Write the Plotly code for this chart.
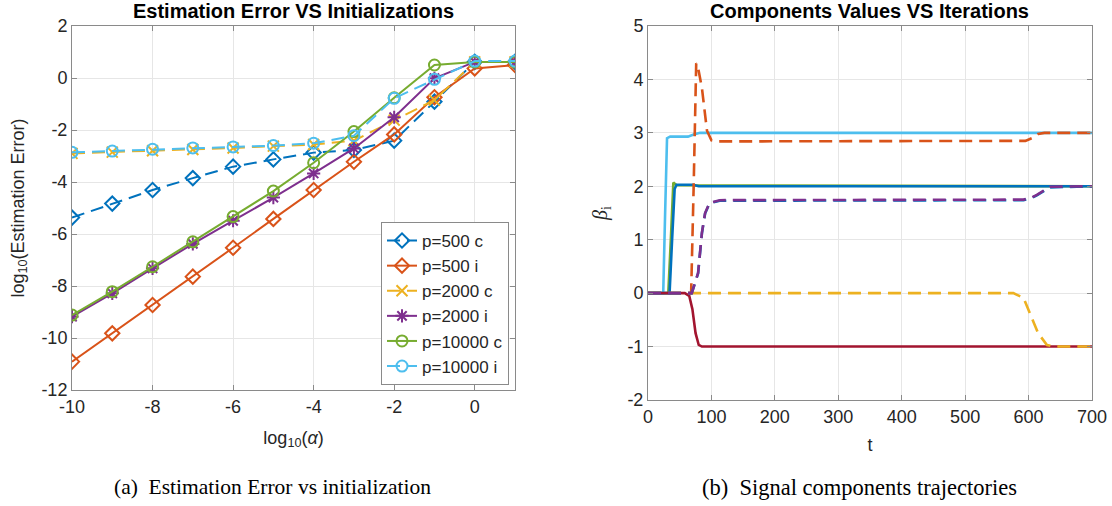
import plotly.graph_objects as go

W, H = 1112, 506

# ---------------- Left panel data ----------------
log_alpha = [-10, -9, -8, -7, -6, -5, -4, -3, -2, -1, 0, 1]
p500_c = [-5.37, -4.83, -4.31, -3.85, -3.41, -3.13, -2.87, -2.77, -2.41, -0.91, 0.62, 0.62]
p500_i = [-10.91, -9.82, -8.73, -7.64, -6.53, -5.42, -4.31, -3.22, -2.17, -0.74, 0.37, 0.50]
p2000_c = [-2.90, -2.85, -2.80, -2.75, -2.69, -2.62, -2.56, -2.41, -1.62, -0.85, 0.62, 0.62]
p2000_i = [-9.18, -8.28, -7.32, -6.38, -5.49, -4.60, -3.67, -2.71, -1.51, -0.01, 0.62, 0.62]
p10000_c = [-9.12, -8.22, -7.26, -6.30, -5.33, -4.35, -3.26, -2.06, -0.76, 0.50, 0.62, 0.62]
p10000_i = [-2.86, -2.81, -2.74, -2.69, -2.65, -2.60, -2.51, -2.22, -0.78, -0.05, 0.65, 0.65]

left_xticks = [-10, -8, -6, -4, -2, 0]
left_xtext = ["-10", "-8", "-6", "-4", "-2", "0"]
left_yticks = [-12, -10, -8, -6, -4, -2, 0, 2]
left_ytext = ["-12", "-10", "-8", "-6", "-4", "-2", "0", "2"]

# ---------------- Right panel data ----------------
t_lb = [0, 24, 27, 30, 35, 63, 72, 82, 700]
b_lb = [0, 0, 1.5, 2.9, 2.93, 2.93, 2.97, 3.0, 3.0]

t_gr = [0, 32, 36, 40, 45, 700]
b_gr = [0, 0, 1.0, 2.07, 2.02, 2.0]

t_bl = [0, 34, 38, 42, 45, 71, 80, 700]
b_bl = [0, 0, 1.0, 1.95, 2.03, 2.03, 2.0, 2.0]

t_dr = [0, 58, 65, 70, 75, 80, 85, 700]
b_dr = [0, 0, -0.05, -0.3, -0.75, -0.97, -1.0, -1.0]

t_or = [0, 68, 72, 76, 78, 85, 93, 100, 110, 595, 605, 615, 625, 700]
b_or = [0, 0, 2.0, 4.3, 4.28, 3.84, 3.04, 2.86, 2.84, 2.85, 2.9, 2.98, 3.0, 3.0]

t_bd = [0, 69, 79, 85, 90, 97, 113, 592, 603, 613, 634, 700]
b_bd = [0, 0, 0.37, 1.12, 1.49, 1.68, 1.73, 1.74, 1.77, 1.83, 1.98, 2.0]

t_pd = [0, 69, 79, 85, 90, 97, 113, 592, 603, 613, 634, 700]
b_pd = [0, 0, 0.38, 1.13, 1.5, 1.69, 1.74, 1.75, 1.78, 1.84, 1.99, 2.0]

t_ye = [0, 576, 592, 602, 615, 629, 640, 700]
b_ye = [0, 0, -0.09, -0.37, -0.75, -0.97, -1.0, -1.0]

right_xticks = [0, 100, 200, 300, 400, 500, 600, 700]
right_yticks = [-2, -1, 0, 1, 2, 3, 4, 5]
right_ytext = ["-2", "-1", "0", "1", "2", "3", "4", "5"]

# MATLAB default colours
C_BLUE = "#0072BD"
C_ORANGE = "#D95319"
C_YELLOW = "#EDB120"
C_PURPLE = "#7E2F8E"
C_GREEN = "#77AC30"
C_LBLUE = "#4DBEEE"
C_DRED = "#A2142F"

DASH = "13px,7px"
SANS = "Liberation Sans, Arial"
SERIF = "Liberation Serif, Times New Roman"

fig = go.Figure()

left_series = [
    ("p=500 c", p500_c, C_BLUE, DASH, "diamond-open"),
    ("p=500 i", p500_i, C_ORANGE, "solid", "diamond-open"),
    ("p=2000 c", p2000_c, C_YELLOW, DASH, "x-thin-open"),
    ("p=2000 i", p2000_i, C_PURPLE, "solid", "asterisk-open"),
    ("p=10000 c", p10000_c, C_GREEN, "solid", "circle-open"),
    ("p=10000 i", p10000_i, C_LBLUE, DASH, "circle-open"),
]
for name, ys, col, dash, sym in left_series:
    fig.add_trace(go.Scatter(
        x=log_alpha, y=ys, name=name, mode="lines+markers",
        line=dict(color=col, width=2, dash=dash),
        marker=dict(symbol=sym, size=11, color=col, line=dict(width=2, color=col)),
        xaxis="x", yaxis="y",
    ))

right_series = [
    (t_gr, b_gr, C_GREEN, "solid"),
    (t_lb, b_lb, C_LBLUE, "solid"),
    (t_bl, b_bl, C_BLUE, "solid"),
    (t_dr, b_dr, C_DRED, "solid"),
    (t_ye, b_ye, C_YELLOW, DASH),
    (t_or, b_or, C_ORANGE, DASH),
    (t_bd, b_bd, C_BLUE, DASH),
    (t_pd, b_pd, C_PURPLE, DASH),
]
for ts, bs, col, dash in right_series:
    fig.add_trace(go.Scatter(
        x=ts, y=bs, mode="lines", showlegend=False,
        line=dict(color=col, width=2.6, dash=dash),
        xaxis="x2", yaxis="y2",
    ))

def px_x(p):
    return p / W

def px_y(p):
    return 1 - p / H

def px_dom_x(a, b):
    return [px_x(a), px_x(b)]

def px_dom_y(top, bottom):
    return [px_y(bottom), px_y(top)]

axis_common = dict(
    showline=True, linecolor="#8a8a8a", linewidth=1, mirror="ticks",
    ticks="inside", ticklen=5, tickcolor="#8a8a8a",
    showgrid=True, gridcolor="#e6e6e6", gridwidth=1,
    zeroline=False, automargin=False,
    tickfont=dict(family=SANS, size=18, color="#262626"),
)

fig.update_layout(
    width=W, height=H,
    margin=dict(l=0, r=0, t=0, b=0),
    paper_bgcolor="white", plot_bgcolor="white",
    font=dict(family=SANS, color="#262626"),
    xaxis=dict(domain=px_dom_x(72, 515), range=[-10, 1], anchor="y",
               tickvals=left_xticks, ticktext=left_xtext,
               title=dict(text="log<sub>10</sub>(<i>α</i>)", standoff=15,
                          font=dict(size=18, family=SANS)),
               **axis_common),
    yaxis=dict(domain=px_dom_y(26, 390), range=[-12, 2], anchor="x",
               tickvals=left_yticks, ticktext=left_ytext,
               title=dict(text="log<sub>10</sub>(Estimation Error)", standoff=12,
                          font=dict(size=18, family=SANS)),
               **axis_common),
    xaxis2=dict(domain=px_dom_x(648, 1092), range=[0, 700], anchor="y2",
                tickvals=right_xticks,
                title=dict(text="t", standoff=12, font=dict(size=18, family=SANS)),
                **axis_common),
    yaxis2=dict(domain=px_dom_y(26, 400), range=[-2, 5], anchor="x2",
                tickvals=right_yticks, ticktext=right_ytext,
                title=dict(text="<i>β</i><sub>i</sub>", standoff=14,
                           font=dict(size=20, family=SERIF)),
                **axis_common),
    legend=dict(x=px_x(509), y=px_y(385), xanchor="right", yanchor="bottom",
                bgcolor="white", bordercolor="#8a8a8a", borderwidth=1,
                font=dict(size=17, family=SANS, color="#262626"),
                tracegroupgap=0, itemwidth=30,
                traceorder="normal"),
    showlegend=True,
    annotations=[
        dict(text="<b>Estimation Error VS Initializations</b>", x=px_x(293.5), y=px_y(11),
             xref="paper", yref="paper", showarrow=False, xanchor="center", yanchor="middle",
             font=dict(size=20, family=SANS, color="#000000")),
        dict(text="<b>Components Values VS Iterations</b>", x=px_x(869), y=px_y(11),
             xref="paper", yref="paper", showarrow=False, xanchor="center", yanchor="middle",
             font=dict(size=20, family=SANS, color="#000000")),
        dict(text="(a)  Estimation Error vs initialization", x=px_x(272), y=px_y(487),
             xref="paper", yref="paper", showarrow=False, xanchor="center", yanchor="middle",
             font=dict(size=21.5, family=SERIF, color="#000000")),
        dict(text="(b)  Signal components trajectories", x=px_x(859), y=px_y(487),
             xref="paper", yref="paper", showarrow=False, xanchor="center", yanchor="middle",
             font=dict(size=22.5, family=SERIF, color="#000000")),
    ],
)

# remove the browser's default 8px body margin so the figure sits at the window's corner
fig.write_html(
    "out.html",
    config={"displayModeBar": False},
    post_script="document.body.style.margin='0px';document.body.style.overflow='hidden';",
)
